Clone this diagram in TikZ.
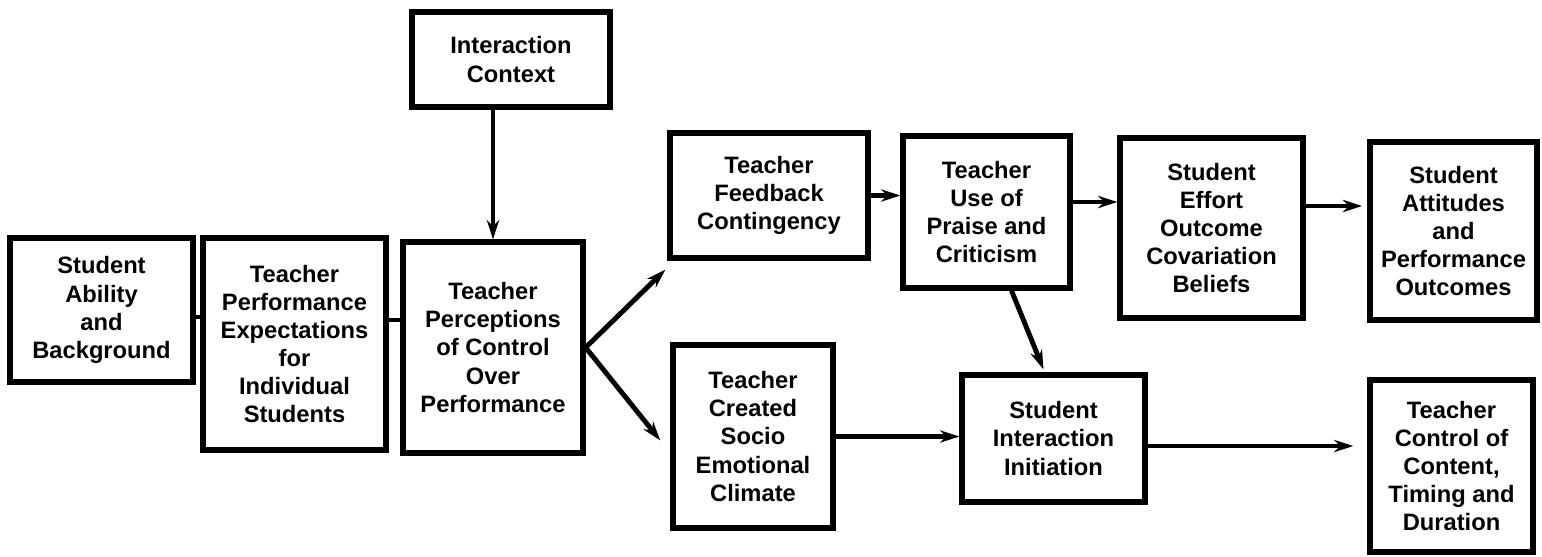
\documentclass[tikz,border=0pt]{standalone}
\usepackage{fontspec}
\setsansfont{Liberation Sans}
\usetikzlibrary{arrows.meta}

\begin{document}
\begin{tikzpicture}[x=0.02cm, y=-0.02cm,
  >={Stealth[length=11pt,width=7pt]},
  box/.style={draw, line width=3pt, align=center, inner sep=2pt,
    font=\sffamily\bfseries\fontsize{13.5}{16}\selectfont},
  link/.style={line width=2.8pt}]

\useasboundingbox (0,0) rectangle (1542,556);

\draw (511,59.5) node[box, minimum width=3.96cm, minimum height=1.90cm] (cx) {Interaction\\Context};
\draw (101.5,310) node[box, minimum width=3.66cm, minimum height=2.88cm] (ab) {Student\\Ability\\and\\Background};
\draw (294.5,344) node[box, minimum width=3.66cm, minimum height=4.24cm] (ex) {Teacher\\Performance\\Expectations\\for\\Individual\\Students};
\draw (493,347.5) node[box, minimum width=3.60cm, minimum height=4.22cm] (pc) {Teacher\\Perceptions\\of Control\\Over\\Performance};
\draw (769,195.5) node[box, minimum width=3.96cm, minimum height=2.50cm] (fb) {Teacher\\Feedback\\Contingency};
\draw (753,436.5) node[box, minimum width=3.20cm, minimum height=3.66cm] (cl) {Teacher\\Created\\Socio\\Emotional\\Climate};
\draw (986.5,212) node[box, minimum width=3.34cm, minimum height=3.04cm] (pr) {Teacher\\Use of\\Praise and\\Criticism};
\draw (1211.5,228) node[box, minimum width=3.66cm, minimum height=3.60cm] (ef) {Student\\Effort\\Outcome\\Covariation\\Beliefs};
\draw (1453.5,231) node[box, minimum width=3.34cm, minimum height=3.56cm] (at) {Student\\Attitudes\\and\\Performance\\Outcomes};
\draw (1053.5,438.5) node[box, minimum width=3.66cm, minimum height=2.54cm] (in) {Student\\Interaction\\Initiation};
\draw (1451.5,466) node[box, minimum width=3.26cm, minimum height=3.44cm] (ct) {Teacher\\Control of\\Content,\\Timing and\\Duration};

\draw[link, ->] (pc.north |- cx.south) -- (pc.north);
\draw[link] (ab.east |- 0,317) -- (ex.west |- 0,317);
\draw[link] (ex.east |- 0,320) -- (pc.west |- 0,320);
\draw[link, ->] (pc.east) -- ([shift={(-2,9)}]fb.south west);
\draw[link, ->] (pc.east) -- ([shift={(-10,4)}]cl.west);
\draw[link, ->] (fb.east) -- (fb.east -| pr.west);
\draw[link, ->] (pr.east |- 0,202) -- (ef.west |- 0,202);
\draw[link, ->] (ef.east |- 0,206) -- ([xshift=-3pt]at.west |- 0,206);
\draw[link, ->] ([shift={(25,0)}]pr.south) -- ([shift={(-10,-3)}]in.north);
\draw[link, ->] (cl.east) -- (cl.east -| in.west);
\draw[link, ->] (in.east |- 0,446) -- ([xshift=-8pt]ct.west |- 0,446);

\end{tikzpicture}
\end{document}
